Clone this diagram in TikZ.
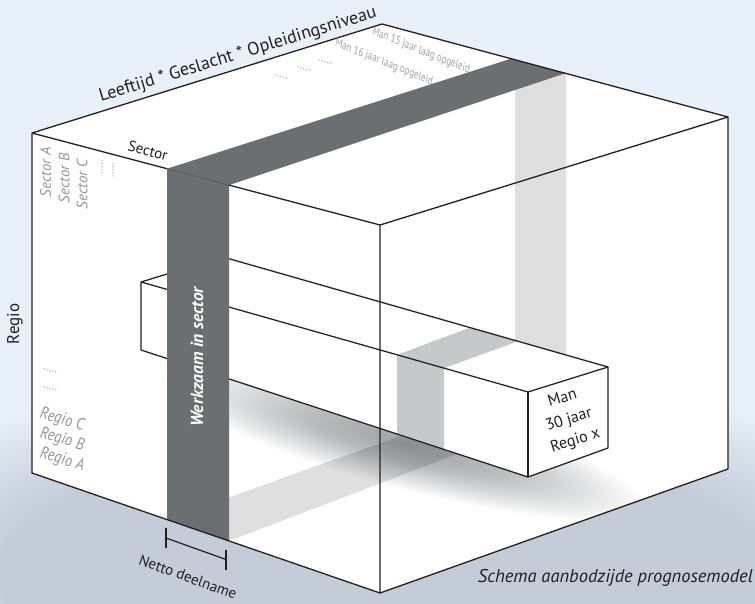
\documentclass[tikz,border=0pt]{standalone}
\usepackage{fontspec}
\setmainfont{PT Sans}
\definecolor{bgblue}{HTML}{E8F1F9}
\definecolor{groundsh}{HTML}{C3CCD7}
\definecolor{darkband}{HTML}{6D6E71}
\definecolor{midband}{HTML}{C7C8CA}
\definecolor{labelgray}{HTML}{939598}
\definecolor{smallgray}{HTML}{A0A2A5}
\definecolor{edgeblack}{HTML}{231F20}
\definecolor{barsh}{HTML}{9FA1A4}
\pgfdeclareradialshading{groundshade}{\pgfpointorigin}{color(0bp)=(groundsh); color(16bp)=(groundsh); color(25bp)=(bgblue); color(50bp)=(bgblue)}
\pgfdeclareradialshading{barshade}{\pgfpointorigin}{color(0bp)=(barsh); color(10bp)=(barsh!72!white); color(25bp)=(white); color(50bp)=(white)}
\begin{document}
\begin{tikzpicture}[x=1pt,y=-1pt,
  cubeedge/.style={draw=edgeblack, line width=1.3pt, line join=round},
  baredge/.style={draw=edgeblack, line width=1.25pt, line join=round},
  bandfill/.style={fill=black, fill opacity=0.125},
  graylbl/.style={text=labelgray, inner sep=0pt, font=\fontsize{15}{18}\selectfont\itshape},
  regiolbl/.style={text=labelgray, inner sep=0pt, font=\fontsize{17}{20}\selectfont\itshape, xscale=0.86},
  tinylbl/.style={text=smallgray, inner sep=0pt, font=\fontsize{12}{13}\selectfont, xscale=0.76},
  dotlbl/.style={text=labelgray, inner sep=0pt, font=\fontsize{11}{12}\selectfont},
  blacklbl/.style={text=edgeblack, inner sep=0pt}]
\useasboundingbox (0,0) rectangle (755,603);
\fill[bgblue] (0,0) rectangle (755,603);
% ground shadow
\shade[shading=groundshade] (385,572) ellipse (600 and 200);
% cube vertices
\coordinate (A) at (32,133);
\coordinate (B) at (382,24);
\coordinate (C) at (728,117);
\coordinate (D) at (380,225);
\coordinate (Ab) at (32,473);
\coordinate (Db) at (380,593);
\coordinate (Cb) at (728,469);
% band points
\coordinate (s1t) at (167,168.7);
\coordinate (s2t) at (229,185.1);
\coordinate (s1b) at (167,519.5);
\coordinate (s2b) at (229,541);
\coordinate (e1) at (511,58.7);
\coordinate (e2) at (565.5,73.2);
\coordinate (k1) at (515,59.75);
\coordinate (k2) at (566,73.5);
\coordinate (f1) at (515,395);
\coordinate (f2) at (566,412.5);
% bar points
\coordinate (G1) at (141,282);
\coordinate (G2) at (223,257);
\coordinate (G4) at (141,350);
\coordinate (F1) at (528,392);
\coordinate (F2) at (608,367);
\coordinate (F3) at (608,448);
\coordinate (F4) at (528,477);
% cube body
\fill[white] (A) -- (B) -- (C) -- (Cb) -- (Db) -- (Ab) -- cycle;
% bar shadow on the floor
\begin{scope}
  \clip (A) -- (B) -- (C) -- (Cb) -- (Db) -- (Ab) -- cycle;
  \begin{scope}[transform canvas={shift={(405,443)}, rotate=-15}]
    \shade[shading=barshade] (0,0) ellipse (250 and 46);
  \end{scope}
\end{scope}
% back and floor bands
\fill[bandfill] (k1) -- (k2) -- (f2) -- (f1) -- cycle;
\fill[bandfill] (s1b) -- (f1) -- (f2) -- (s2b) -- cycle;
% bar faces
\fill[white] (G1) -- (G2) -- (F2) -- (F1) -- cycle;
\fill[white] (G1) -- (F1) -- (F4) -- (G4) -- cycle;
\fill[white] (F1) -- (F2) -- (F3) -- (F4) -- cycle;
% intersection on bar
\fill[midband] (397,354.8) -- (470,327.6) -- (518,341.3) -- (444,368.1) -- cycle;
\fill[midband] (397,354.8) -- (444,368.1) -- (444,449.4) -- (397,434) -- cycle;
% bar edges
\draw[baredge] (G4) -- (G1) -- (G2) -- (F2) -- (F3) -- (F4) -- cycle;
\draw[baredge] (G1) -- (F1) -- (F2);
\draw[baredge] (F1) -- (F4);
% dark sector band
\fill[darkband] (s1b) -- (s1t) -- (e1) -- (e2) -- (s2t) -- (s2b) -- cycle;
% cube edges
\draw[cubeedge] (A) -- (B) -- (C) -- (Cb) -- (Db) -- (Ab) -- cycle;
\draw[cubeedge] (C) -- (D) -- (Db);
\draw[cubeedge] (A) -- (s1t);
\draw[cubeedge] (s2t) -- (D);
\draw[draw=darkband!60!black, line width=0.6pt, dash pattern=on 2pt off 1.5pt] (s1t) -- (s2t);
% netto deelname marker
\coordinate (n1) at (166,538);
\coordinate (n2) at (226,559.5);
\coordinate (n1a) at (166,528);
\coordinate (n1b) at (166,548);
\coordinate (n2a) at (226,549.5);
\coordinate (n2b) at (226,569.5);
\draw[edgeblack, line width=1.2pt] (n1a) -- (n1b);
\draw[edgeblack, line width=1.2pt] (n2a) -- (n2b);
\draw[edgeblack, line width=1.2pt] (n1) -- (n2);
% labels
\node[blacklbl, rotate=17, font=\fontsize{18}{20}\selectfont] (lgo) at (238,55) {Leeftijd * Geslacht * Opleidingsniveau};
\node[blacklbl, rotate=-15, font=\fontsize{15}{18}\selectfont] (sector) at (148,151) {Sector};
\node[blacklbl, rotate=90, font=\fontsize{17}{20}\selectfont] (regio) at (15,324) {Regio};
\node[graylbl, rotate=90] (secA) at (45.5,172) {Sector A};
\node[graylbl, rotate=90] (secB) at (64,178) {Sector B};
\node[graylbl, rotate=90] (secC) at (82,184) {Sector C};
\node[dotlbl, rotate=90] (sd1) at (102,167) {.....};
\node[dotlbl, rotate=90] (sd2) at (113,170) {.....};
\node[dotlbl, rotate=-14] (rd1) at (50,371) {.....};
\node[dotlbl, rotate=-14] (rd2) at (50,389) {.....};
\node[regiolbl, rotate=-14] (regC) at (62,420) {Regio C};
\node[regiolbl, rotate=-14] (regB) at (62,440) {Regio B};
\node[regiolbl, rotate=-14] (regA) at (62,460) {Regio A};
\node[tinylbl, rotate=-17] (m15) at (421,51) {Man 15 jaar laag opgeleid};
\node[tinylbl, rotate=-17] (m16) at (384,62.5) {Man 16 jaar laag opgeleid};
\node[dotlbl, rotate=-17] (td1) at (325,62) {.....};
\node[dotlbl, rotate=-17] (td2) at (304,69) {.....};
\node[dotlbl, rotate=-17] (td3) at (281,77) {.....};
\node[text=white, inner sep=0pt, rotate=90, font=\fontsize{17.5}{20}\selectfont\bfseries\itshape] (werk) at (197,357) {Werkzaam in sector};
\node[blacklbl, rotate=17, align=center, font=\fontsize{16}{22}\selectfont] (man30) at (569,420) {Man\\30 jaar\\Regio x};
\node[blacklbl, rotate=-20, font=\fontsize{15}{17}\selectfont] (netto) at (188,577) {Netto deelname};
\node[blacklbl, anchor=east, font=\fontsize{18.5}{20}\selectfont\itshape] (schema) at (753,578) {Schema aanbodzijde prognosemodel};
\end{tikzpicture}
\end{document}
